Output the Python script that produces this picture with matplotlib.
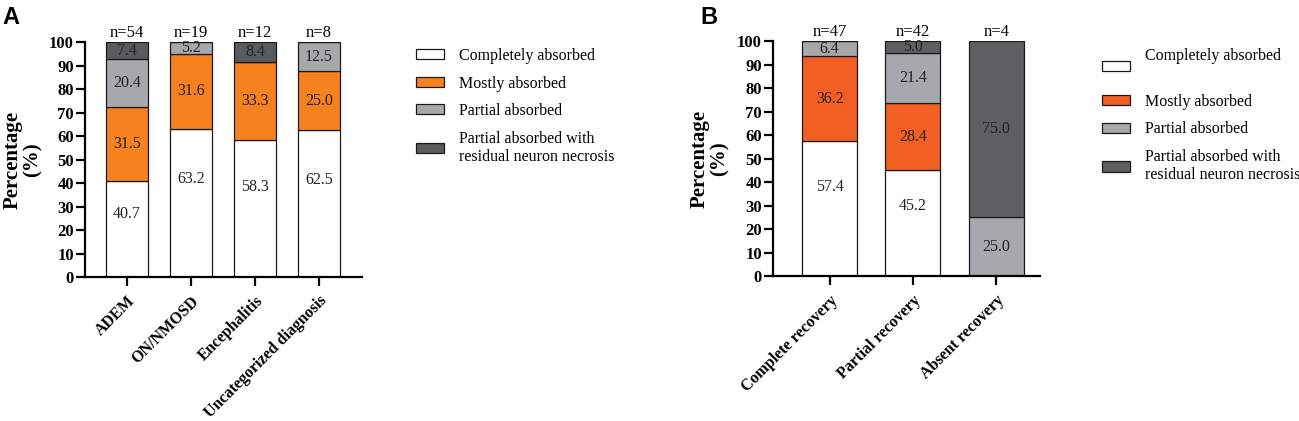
import matplotlib

matplotlib.use("Agg")
import matplotlib.pyplot as plt
from matplotlib.patches import Patch
import numpy as np

plt.rcParams["font.family"] = ["Liberation Serif", "DejaVu Serif"]

LEGEND_LABELS = [
    "Completely absorbed",
    "Mostly absorbed",
    "Partial absorbed",
    "Partial absorbed with\nresidual neuron necrosis",
]

# panel A: diagnosis groups
A_CATS = ["ADEM", "ON/NMOSD", "Encephalitis", "Uncategorized diagnosis"]
A_N = [54, 19, 12, 8]
A_COMPLETE = [40.7, 63.2, 58.3, 62.5]
A_MOSTLY = [31.5, 31.6, 33.3, 25.0]
A_PARTIAL = [20.4, 5.2, 0.0, 12.5]
A_RESIDUAL = [7.4, 0.0, 8.4, 0.0]

# panel B: recovery groups
B_CATS = ["Complete recovery", "Partial recovery", "Absent recovery"]
B_N = [47, 42, 4]
B_COMPLETE = [57.4, 45.2, 0.0]
B_MOSTLY = [36.2, 28.4, 0.0]
B_PARTIAL = [6.4, 21.4, 25.0]
B_RESIDUAL = [0.0, 5.0, 75.0]

A_COLORS = ["#ffffff", "#f5821f", "#a7a8ab", "#5a5b5d"]
B_COLORS = ["#ffffff", "#f15f22", "#a7a8ab", "#5e5f61"]


def draw_panel(ax, cats, ns, series, colors, xlim):
    x = np.arange(len(cats))
    bottom = np.zeros(len(cats))
    for k, (values, color) in enumerate(zip(series, colors)):
        values = np.array(values)
        ax.bar(x, values, 0.66, bottom=bottom, color=color,
               edgecolor="#1a1a1a", linewidth=0.9)
        # the white segment labels sit a bit above the middle, as in the original
        frac = 0.66 if k == 0 else 0.5
        for xi, b, v in zip(x, bottom, values):
            if v > 0:
                ax.text(xi, b + v * frac, f"{v:.1f}", ha="center", va="center",
                        fontsize=11.5, color="#222222")
        bottom = bottom + values
    for xi, n, top in zip(x, ns, bottom):
        ax.annotate(f"n={n}", (xi, top), xytext=(0, 1), textcoords="offset points",
                    ha="center", va="bottom", fontsize=12)
    ax.set_xlim(*xlim)
    ax.set_ylim(0, 100)
    ax.set_yticks(np.arange(0, 101, 10))
    ax.set_xticks(x)
    ax.set_xticklabels(cats, rotation=45, ha="right", rotation_mode="anchor",
                       fontweight="bold", fontsize=11.5)
    for lab in ax.get_yticklabels():
        lab.set_fontweight("bold")
        lab.set_fontsize(12)
    ax.tick_params(axis="both", direction="out", length=6.5, width=1.6, pad=1.5)
    ax.tick_params(axis="x", pad=5)
    for side in ("top", "right"):
        ax.spines[side].set_visible(False)
    for side in ("left", "bottom"):
        ax.spines[side].set_linewidth(1.6)
    ax.set_ylabel("Percentage\n(%)", fontweight="bold", fontsize=15,
                  linespacing=1.0, labelpad=5)


fig = plt.figure(figsize=(12.99, 4.21), dpi=100)
ax_a = fig.add_axes([0.0655, 0.342, 0.213, 0.558])
ax_b = fig.add_axes([0.595, 0.344, 0.206, 0.558])

draw_panel(ax_a, A_CATS, A_N, [A_COMPLETE, A_MOSTLY, A_PARTIAL, A_RESIDUAL],
           A_COLORS, (-0.656, 3.67))
draw_panel(ax_b, B_CATS, B_N, [B_COMPLETE, B_MOSTLY, B_PARTIAL, B_RESIDUAL],
           B_COLORS, (-0.68, 2.53))

handles_a = [Patch(facecolor=c, edgecolor="#1a1a1a", linewidth=0.9) for c in A_COLORS]
fig.legend(handles_a, LEGEND_LABELS, loc="upper left", bbox_to_anchor=(0.309, 0.92),
           frameon=False, fontsize=11.5, handlelength=1.75, handleheight=0.6,
           handletextpad=0.95, labelspacing=0.72)

labels_b = [LEGEND_LABELS[0] + "\n"] + LEGEND_LABELS[1:]
handles_b = [Patch(facecolor=c, edgecolor="#1a1a1a", linewidth=0.9) for c in B_COLORS]
fig.legend(handles_b, labels_b, loc="upper left", bbox_to_anchor=(0.8375, 0.92),
           frameon=False, fontsize=11.5, handlelength=1.75, handleheight=0.6,
           handletextpad=0.95, labelspacing=0.72)

fig.text(0.002, 0.985, "A", fontsize=17, fontweight="bold", va="top",
         family=["Liberation Sans", "DejaVu Sans"])
fig.text(0.539, 0.985, "B", fontsize=17, fontweight="bold", va="top",
         family=["Liberation Sans", "DejaVu Sans"])

fig.savefig("out.png", dpi=100)
